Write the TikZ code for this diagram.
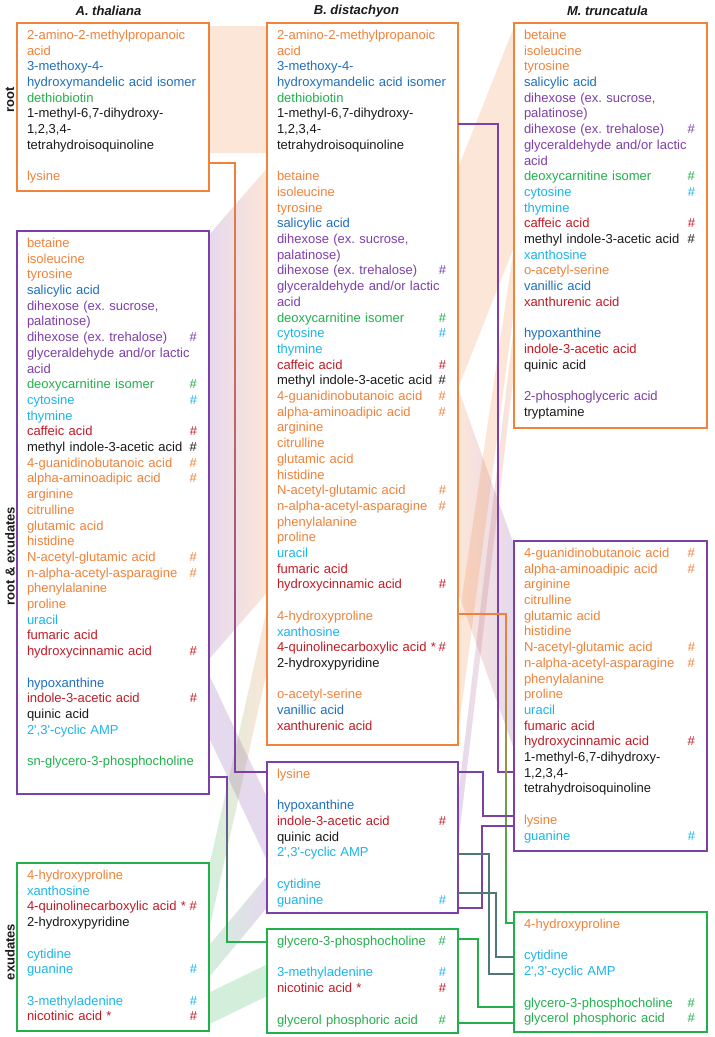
\documentclass[tikz,border=0pt]{standalone}
\usepackage{fontspec}
\setmainfont{Liberation Sans}[Ligatures=TeXOff]
\usetikzlibrary{calc,fit,fadings,backgrounds}
\frenchspacing
\definecolor{MBOrange}{HTML}{F0823A}
\definecolor{MBPurple}{HTML}{7D3FA8}
\definecolor{MBGreen}{HTML}{22B04C}
\definecolor{MBBlue}{HTML}{1F6FC1}
\definecolor{MBCyan}{HTML}{1CB5EB}
\definecolor{MBRed}{HTML}{C41A24}
\definecolor{MBInk}{HTML}{1A1A1A}
\colorlet{MBSlate}{MBPurple!50!MBGreen}
\newlength{\pix}\setlength{\pix}{0.75pt}
% one line of a metabolite list, with or without the # mark
\newcommand{\ml}[2]{\makebox[\hsize][l]{\strut\color{#1}#2}\\}
\newcommand{\mh}[2]{\makebox[\hsize][l]{\strut\color{#1}#2\hfill\#}\\}
\newcommand{\mb}{\strut\\}
% shaded band between the lines #4..#5 of box #3 and #7..#8 of box #6
\newcommand{\flowband}[8]{%
  \path[band={#1}{#2}] ($(#3.north east)+(0,{4+15.7*#4})$) -- ($(#6.north west)+(0,{4+15.7*#7})$)
    -- ($(#6.north west)+(0,{20+15.7*#8})$) -- ($(#3.north east)+(0,{20+15.7*#5})$) -- cycle;%
}
% elbow connector that turns from colour #1 into colour #2
\newcommand{\fadelink}[5]{%
  \draw[link=#1] (#3) -- ++(#4,0) |- (#5);
  \draw[link=#2,path fading=north] (#3) -- ++(#4,0) |- (#5);%
}
\tikzset{
  box/.style={draw=#1,line width=1.1pt,fill=white,inner sep=0pt,outer sep=0pt},
  list/.style={anchor=north west,inner sep=0pt,outer sep=0pt,text width=#1\pix,align=left,
               font=\fontsize{9.75}{11.775}\selectfont},
  band/.style 2 args={left color=#1,right color=#2,fill opacity=.2},
  link/.style={draw=#1,line width=1.1pt},
  species/.style={text=MBInk,font=\fontsize{9.75}{11.7}\selectfont\bfseries\itshape},
  rowlabel/.style={text=MBInk,font=\fontsize{9.75}{11.7}\selectfont\bfseries,rotate=90},
}
\begin{document}
\begin{tikzpicture}[x=.75pt,y=-.75pt]
  \useasboundingbox (0,0) rectangle (714,1037);
  \node[species] (tA) at (108.5,11) {A. thaliana};
  \node[species] (tB) at (356.5,11) {B. distachyon};
  \node[species] (tC) at (607.5,11) {M. truncatula};
  \node[rowlabel] (lroot) at (10,100) {root};
  \node[rowlabel] (lrex) at (10,556) {root \& exudates};
  \node[rowlabel] (lex) at (10,952) {exudates};

  % A. thaliana
  \node[box=MBOrange,fit={(17,23) (209,191)}] (Aroot) {};
  \node[list=170] (Aroottext) at ([shift={(10,5.5)}]Aroot.north west) {%
    \ml{MBOrange}{2-amino-2-methylpropanoic}
    \ml{MBOrange}{acid}
    \ml{MBBlue}{3-methoxy-4-}
    \ml{MBBlue}{hydroxymandelic acid isomer}
    \ml{MBGreen}{dethiobiotin}
    \ml{MBInk}{1-methyl-6,7-dihydroxy-}
    \ml{MBInk}{1,2,3,4-}
    \ml{MBInk}{tetrahydroisoquinoline}
    \mb
    \ml{MBOrange}{lysine}};
  \node[box=MBPurple,fit={(17,231) (209,794)}] (Are) {};
  \node[list=170] (Aretext) at ([shift={(10,5.5)}]Are.north west) {%
    \ml{MBOrange}{betaine}
    \ml{MBOrange}{isoleucine}
    \ml{MBOrange}{tyrosine}
    \ml{MBBlue}{salicylic acid}
    \ml{MBPurple}{dihexose (ex. sucrose,}
    \ml{MBPurple}{palatinose)}
    \mh{MBPurple}{dihexose (ex. trehalose)}
    \ml{MBPurple}{glyceraldehyde and/or lactic}
    \ml{MBPurple}{acid}
    \mh{MBGreen}{deoxycarnitine isomer}
    \mh{MBCyan}{cytosine}
    \ml{MBCyan}{thymine}
    \mh{MBRed}{caffeic acid}
    \mh{MBInk}{methyl indole-3-acetic acid}
    \mh{MBOrange}{4-guanidinobutanoic acid}
    \mh{MBOrange}{alpha-aminoadipic acid}
    \ml{MBOrange}{arginine}
    \ml{MBOrange}{citrulline}
    \ml{MBOrange}{glutamic acid}
    \ml{MBOrange}{histidine}
    \mh{MBOrange}{N-acetyl-glutamic acid}
    \mh{MBOrange}{n-alpha-acetyl-asparagine}
    \ml{MBOrange}{phenylalanine}
    \ml{MBOrange}{proline}
    \ml{MBCyan}{uracil}
    \ml{MBRed}{fumaric acid}
    \mh{MBRed}{hydroxycinnamic acid}
    \mb
    \ml{MBBlue}{hypoxanthine}
    \mh{MBRed}{indole-3-acetic acid}
    \ml{MBInk}{quinic acid}
    \ml{MBCyan}{2',3'-cyclic AMP}
    \mb
    \ml{MBGreen}{sn-glycero-3-phosphocholine}};
  \node[box=MBGreen,fit={(17,863) (209,1031)}] (Aex) {};
  \node[list=170] (Aextext) at ([shift={(10,5.5)}]Aex.north west) {%
    \ml{MBOrange}{4-hydroxyproline}
    \ml{MBCyan}{xanthosine}
    \mh{MBRed}{4-quinolinecarboxylic acid *}
    \ml{MBInk}{2-hydroxypyridine}
    \mb
    \ml{MBCyan}{cytidine}
    \mh{MBCyan}{guanine}
    \mb
    \mh{MBCyan}{3-methyladenine}
    \mh{MBRed}{nicotinic acid *}};

  % B. distachyon
  \node[box=MBOrange,fit={(267,23) (458,745)}] (Btop) {};
  \node[list=169] (Btoptext) at ([shift={(10,5.5)}]Btop.north west) {%
    \ml{MBOrange}{2-amino-2-methylpropanoic}
    \ml{MBOrange}{acid}
    \ml{MBBlue}{3-methoxy-4-}
    \ml{MBBlue}{hydroxymandelic acid isomer}
    \ml{MBGreen}{dethiobiotin}
    \ml{MBInk}{1-methyl-6,7-dihydroxy-}
    \ml{MBInk}{1,2,3,4-}
    \ml{MBInk}{tetrahydroisoquinoline}
    \mb
    \ml{MBOrange}{betaine}
    \ml{MBOrange}{isoleucine}
    \ml{MBOrange}{tyrosine}
    \ml{MBBlue}{salicylic acid}
    \ml{MBPurple}{dihexose (ex. sucrose,}
    \ml{MBPurple}{palatinose)}
    \mh{MBPurple}{dihexose (ex. trehalose)}
    \ml{MBPurple}{glyceraldehyde and/or lactic}
    \ml{MBPurple}{acid}
    \mh{MBGreen}{deoxycarnitine isomer}
    \mh{MBCyan}{cytosine}
    \ml{MBCyan}{thymine}
    \mh{MBRed}{caffeic acid}
    \mh{MBInk}{methyl indole-3-acetic acid}
    \mh{MBOrange}{4-guanidinobutanoic acid}
    \mh{MBOrange}{alpha-aminoadipic acid}
    \ml{MBOrange}{arginine}
    \ml{MBOrange}{citrulline}
    \ml{MBOrange}{glutamic acid}
    \ml{MBOrange}{histidine}
    \mh{MBOrange}{N-acetyl-glutamic acid}
    \mh{MBOrange}{n-alpha-acetyl-asparagine}
    \ml{MBOrange}{phenylalanine}
    \ml{MBOrange}{proline}
    \ml{MBCyan}{uracil}
    \ml{MBRed}{fumaric acid}
    \mh{MBRed}{hydroxycinnamic acid}
    \mb
    \ml{MBOrange}{4-hydroxyproline}
    \ml{MBCyan}{xanthosine}
    \mh{MBRed}{4-quinolinecarboxylic acid *}
    \ml{MBInk}{2-hydroxypyridine}
    \mb
    \ml{MBOrange}{o-acetyl-serine}
    \ml{MBBlue}{vanillic acid}
    \ml{MBRed}{xanthurenic acid}};
  \node[box=MBPurple,fit={(267,762) (458,913)}] (Bpur) {};
  \node[list=169] (Bpurtext) at ([shift={(10,5.5)}]Bpur.north west) {%
    \ml{MBOrange}{lysine}
    \mb
    \ml{MBBlue}{hypoxanthine}
    \mh{MBRed}{indole-3-acetic acid}
    \ml{MBInk}{quinic acid}
    \ml{MBCyan}{2',3'-cyclic AMP}
    \mb
    \ml{MBCyan}{cytidine}
    \mh{MBCyan}{guanine}};
  \node[box=MBGreen,fit={(267,929) (458,1033)}] (Bgrn) {};
  \node[list=169] (Bgrntext) at ([shift={(10,5.5)}]Bgrn.north west) {%
    \mh{MBGreen}{glycero-3-phosphocholine}
    \mb
    \mh{MBCyan}{3-methyladenine}
    \mh{MBRed}{nicotinic acid *}
    \mb
    \mh{MBGreen}{glycerol phosphoric acid}};

  % M. truncatula
  \node[box=MBOrange,fit={(514,23) (707,428)}] (Ctop) {};
  \node[list=171] (Ctoptext) at ([shift={(10,5.5)}]Ctop.north west) {%
    \ml{MBOrange}{betaine}
    \ml{MBOrange}{isoleucine}
    \ml{MBOrange}{tyrosine}
    \ml{MBBlue}{salicylic acid}
    \ml{MBPurple}{dihexose (ex. sucrose,}
    \ml{MBPurple}{palatinose)}
    \mh{MBPurple}{dihexose (ex. trehalose)}
    \ml{MBPurple}{glyceraldehyde and/or lactic}
    \ml{MBPurple}{acid}
    \mh{MBGreen}{deoxycarnitine isomer}
    \mh{MBCyan}{cytosine}
    \ml{MBCyan}{thymine}
    \mh{MBRed}{caffeic acid}
    \mh{MBInk}{methyl indole-3-acetic acid}
    \ml{MBCyan}{xanthosine}
    \ml{MBOrange}{o-acetyl-serine}
    \ml{MBBlue}{vanillic acid}
    \ml{MBRed}{xanthurenic acid}
    \mb
    \ml{MBBlue}{hypoxanthine}
    \ml{MBRed}{indole-3-acetic acid}
    \ml{MBInk}{quinic acid}
    \mb
    \ml{MBPurple}{2-phosphoglyceric acid}
    \ml{MBInk}{tryptamine}};
  \node[box=MBPurple,fit={(514,541) (707,851)}] (Cpur) {};
  \node[list=171] (Cpurtext) at ([shift={(10,5.5)}]Cpur.north west) {%
    \mh{MBOrange}{4-guanidinobutanoic acid}
    \mh{MBOrange}{alpha-aminoadipic acid}
    \ml{MBOrange}{arginine}
    \ml{MBOrange}{citrulline}
    \ml{MBOrange}{glutamic acid}
    \ml{MBOrange}{histidine}
    \mh{MBOrange}{N-acetyl-glutamic acid}
    \mh{MBOrange}{n-alpha-acetyl-asparagine}
    \ml{MBOrange}{phenylalanine}
    \ml{MBOrange}{proline}
    \ml{MBCyan}{uracil}
    \ml{MBRed}{fumaric acid}
    \mh{MBRed}{hydroxycinnamic acid}
    \ml{MBInk}{1-methyl-6,7-dihydroxy-}
    \ml{MBInk}{1,2,3,4-}
    \ml{MBInk}{tetrahydroisoquinoline}
    \mb
    \ml{MBOrange}{lysine}
    \mh{MBCyan}{guanine}};
  \node[box=MBGreen,fit={(514,912) (707,1032)}] (Cgrn) {};
  \node[list=171] (Cgrntext) at ([shift={(10,5.5)}]Cgrn.north west) {%
    \ml{MBOrange}{4-hydroxyproline}
    \mb
    \ml{MBCyan}{cytidine}
    \ml{MBCyan}{2',3'-cyclic AMP}
    \mb
    \mh{MBGreen}{glycero-3-phosphocholine}
    \mh{MBGreen}{glycerol phosphoric acid}};

  % shared groups
  \begin{scope}[on background layer]
    \flowband{MBOrange}{MBOrange}{Aroot}{0}{7}{Btop}{0}{7}
    \flowband{MBPurple}{MBOrange}{Are}{0}{26}{Btop}{9}{35}
    \flowband{MBPurple}{MBPurple}{Are}{28}{31}{Bpur}{2}{5}
    \flowband{MBGreen}{MBOrange}{Aex}{0}{3}{Btop}{37}{40}
    \flowband{MBGreen}{MBPurple}{Aex}{5}{6}{Bpur}{7}{8}
    \flowband{MBGreen}{MBGreen}{Aex}{8}{9}{Bgrn}{2}{3}
    \flowband{MBOrange}{MBOrange}{Btop}{9}{22}{Ctop}{0}{13}
    \flowband{MBOrange}{MBPurple}{Btop}{23}{35}{Cpur}{0}{12}
    \flowband{MBOrange}{MBOrange}{Btop}{38}{44}{Ctop}{14}{17}
    \flowband{MBPurple}{MBOrange}{Bpur}{2}{4}{Ctop}{19}{21}
  \end{scope}

  % single metabolites
  \coordinate (lysA) at ($(Aroot.north east)+(0,140)$);
  \coordinate (lysB) at ($(Bpur.north west)+(0,10)$);
  \coordinate (gpcA) at ($(Are.north east)+(0,546)$);
  \coordinate (gpcB) at ($(Bgrn.north west)+(0,13)$);
  \coordinate (thqB) at ($(Btop.north east)+(0,101)$);
  \coordinate (thqC) at ($(Cpur.north west)+(0,231)$);
  \coordinate (hypB) at ($(Btop.north east)+(0,591)$);
  \coordinate (hypC) at ($(Cgrn.north west)+(0,11)$);
  \coordinate (lysBr) at ($(Bpur.north east)+(0,10)$);
  \coordinate (lysC) at ($(Cpur.north west)+(0,275)$);
  \coordinate (guaB) at ($(Bpur.north east)+(0,146)$);
  \coordinate (guaC) at ($(Cpur.north west)+(0,285)$);
  \coordinate (campB) at ($(Bpur.north east)+(0,92)$);
  \coordinate (campC) at ($(Cgrn.north west)+(0,62)$);
  \coordinate (cytB) at ($(Bpur.north east)+(0,131)$);
  \coordinate (cytC) at ($(Cgrn.north west)+(0,45)$);
  \coordinate (gpcBr) at ($(Bgrn.north east)+(0,10)$);
  \coordinate (gpcC) at ($(Cgrn.north west)+(0,95)$);
  \coordinate (gpaB) at ($(Bgrn.north east)+(0,94)$);
  \coordinate (gpaC) at ($(Cgrn.north west)+(0,111)$);
  \fadelink{MBOrange}{MBPurple}{lysA}{26}{lysB}
  \fadelink{MBPurple}{MBGreen}{gpcA}{18}{gpcB}
  \draw[link=MBPurple] (thqB) -- ++(40,0) |- (thqC);
  \fadelink{MBOrange}{MBGreen}{hypB}{48}{hypC}
  \draw[link=MBPurple] (lysBr) -- ++(25,0) |- (lysC);
  \draw[link=MBPurple] (guaB) -- ++(24,0) |- (guaC);
  \draw[link=MBSlate] (campB) -- ++(31,0) |- (campC);
  \draw[link=MBSlate] (cytB) -- ++(38,0) |- (cytC);
  \draw[link=MBGreen] (gpcBr) -- ++(20,0) |- (gpcC);
  \draw[link=MBGreen] (gpaB) -- (gpaC);
\end{tikzpicture}
\end{document}
